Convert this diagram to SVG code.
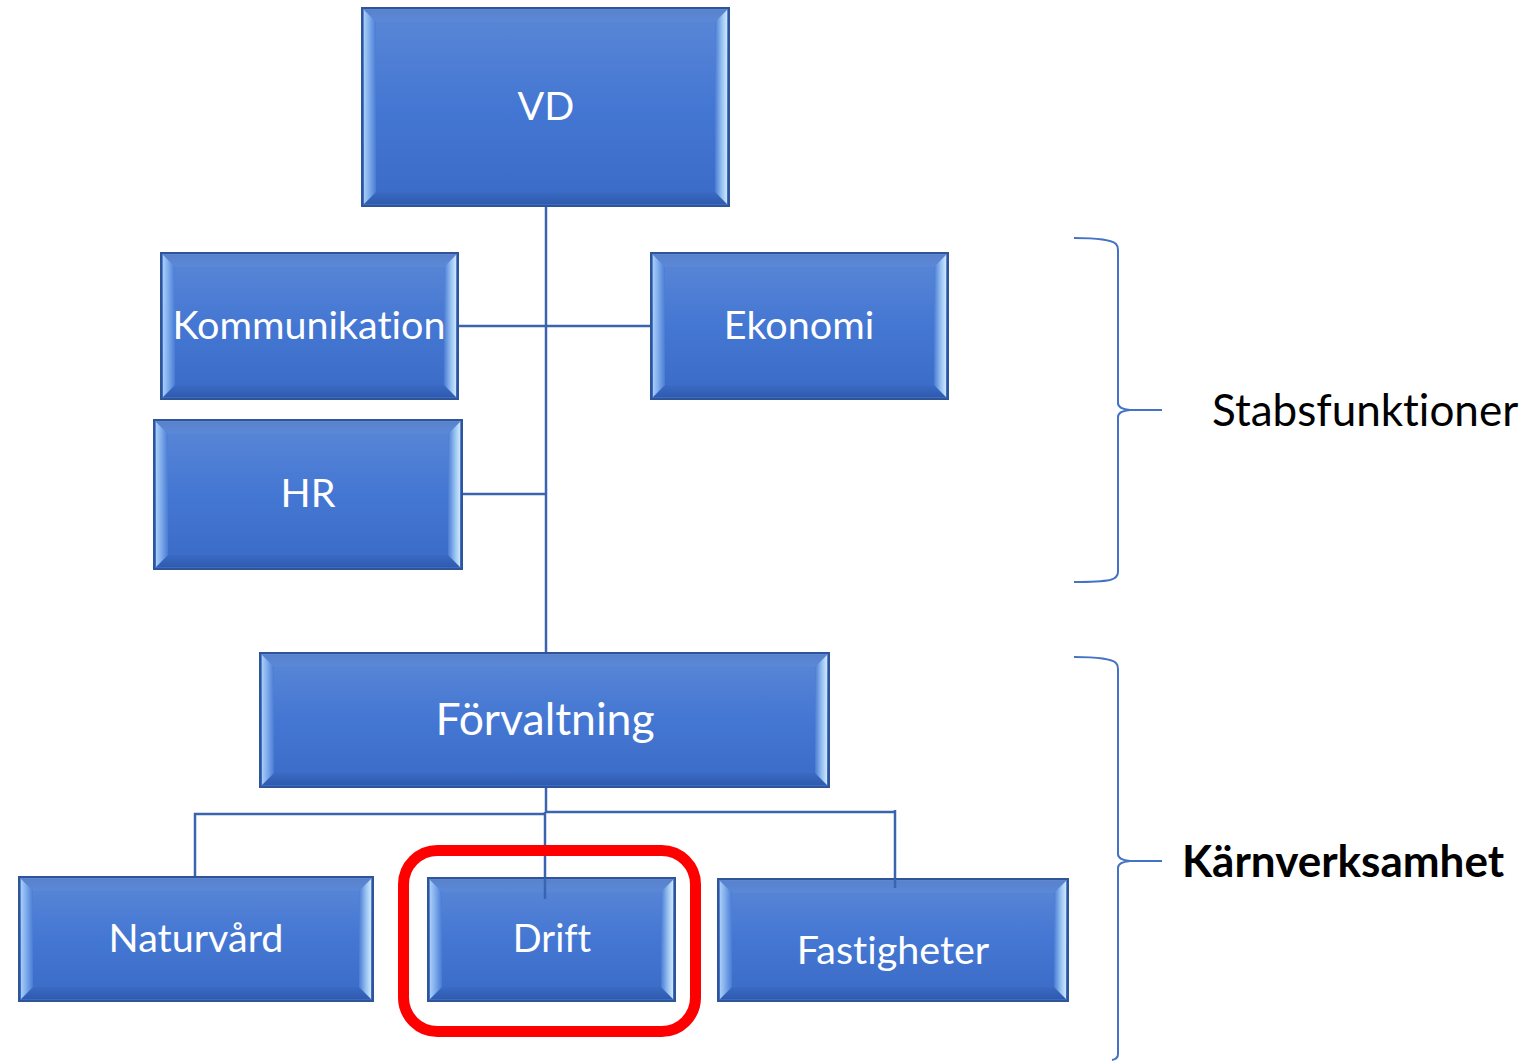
<svg xmlns="http://www.w3.org/2000/svg" width="1537" height="1061" viewBox="0 0 1537 1061">
<defs>
<linearGradient id="gBody" x1="0" y1="0" x2="0" y2="1">
<stop offset="0" stop-color="#5b87d6"/>
<stop offset="0.5" stop-color="#4477d3"/>
<stop offset="1" stop-color="#3a6bc6"/>
</linearGradient>
<linearGradient id="gLeft" x1="0" y1="0" x2="1" y2="0">
<stop offset="0" stop-color="#a8cdf6"/>
<stop offset="0.35" stop-color="#86b3ee"/>
<stop offset="1" stop-color="#4a7bd4"/>
</linearGradient>
<linearGradient id="gRight" x1="0" y1="0" x2="1" y2="0">
<stop offset="0" stop-color="#4a7bd4"/>
<stop offset="0.6" stop-color="#9ac4f2"/>
<stop offset="1" stop-color="#cfe7fc"/>
</linearGradient>
<linearGradient id="gTop" x1="0" y1="0" x2="0" y2="1">
<stop offset="0" stop-color="#5a82cc"/>
<stop offset="1" stop-color="#5a88d8"/>
</linearGradient>
<linearGradient id="gBot" x1="0" y1="0" x2="0" y2="1">
<stop offset="0" stop-color="#3a6ac4"/>
<stop offset="1" stop-color="#2f5bae"/>
</linearGradient>
</defs>
<style>
.body{fill:url(#gBody);stroke:#2f5597;stroke-width:2}
.bl{fill:url(#gLeft)}
.br{fill:url(#gRight)}
.bt{fill:url(#gTop)}
.bb{fill:url(#gBot)}
.lbl{font-family:Lato,"Open Sans","Liberation Sans",sans-serif;fill:#ffffff;text-anchor:middle;font-size:39.5px;font-variant-ligatures:none}
.conn{stroke:#3a64b0;stroke-width:2.5;fill:none}
.brace{stroke:#4472c4;stroke-width:2;fill:none}
.side{font-family:Lato,"Open Sans","Liberation Sans",sans-serif;fill:#000;font-size:44px;font-variant-ligatures:none}
</style>
<rect width="1537" height="1061" fill="#ffffff"/>

<g id="connectors">
<line class="conn" x1="546" y1="206" x2="546" y2="653"/>
<line class="conn" x1="458" y1="326" x2="651" y2="326"/>
<line class="conn" x1="462" y1="494" x2="546" y2="494"/>
<line class="conn" x1="546" y1="787" x2="546" y2="813"/>
<polyline class="conn" points="195,877 195,814 546,814"/>
<line class="conn" x1="546" y1="812" x2="895" y2="812"/>
<line class="conn" x1="545" y1="812" x2="545" y2="899"/>
<line class="conn" x1="895" y1="810" x2="895" y2="888"/>
</g>

<g id="vd">
<rect class="body" x="362" y="8" width="367" height="198"/>
<polygon class="bt" points="364,10 727,10 715,22 376,22"/>
<polygon class="bb" points="364,204 727,204 715,192 376,192"/>
<polygon class="bl" points="364,10 376,22 376,192 364,204"/>
<polygon class="br" points="727,10 715,22 715,192 727,204"/>
<text class="lbl" x="546" y="120">VD</text>
</g>

<g id="kommunikation">
<rect class="body" x="161" y="253" width="297" height="146"/>
<polygon class="bt" points="163,255 456,255 444,267 175,267"/>
<polygon class="bb" points="163,397 456,397 444,385 175,385"/>
<polygon class="bl" points="163,255 175,267 175,385 163,397"/>
<polygon class="br" points="456,255 444,267 444,385 456,397"/>
<text class="lbl" x="309" y="339">Kommunikation</text>
</g>

<g id="ekonomi">
<rect class="body" x="651" y="253" width="297" height="146"/>
<polygon class="bt" points="653,255 946,255 934,267 665,267"/>
<polygon class="bb" points="653,397 946,397 934,385 665,385"/>
<polygon class="bl" points="653,255 665,267 665,385 653,397"/>
<polygon class="br" points="946,255 934,267 934,385 946,397"/>
<text class="lbl" x="799" y="339">Ekonomi</text>
</g>

<g id="hr">
<rect class="body" x="154" y="420" width="308" height="149"/>
<polygon class="bt" points="156,422 460,422 448,434 168,434"/>
<polygon class="bb" points="156,567 460,567 448,555 168,555"/>
<polygon class="bl" points="156,422 168,434 168,555 156,567"/>
<polygon class="br" points="460,422 448,434 448,555 460,567"/>
<text class="lbl" x="308" y="507">HR</text>
</g>

<g id="forvaltning">
<rect class="body" x="260" y="653" width="569" height="134"/>
<polygon class="bt" points="262,655 827,655 815,667 274,667"/>
<polygon class="bb" points="262,785 827,785 815,773 274,773"/>
<polygon class="bl" points="262,655 274,667 274,773 262,785"/>
<polygon class="br" points="827,655 815,667 815,773 827,785"/>
<text class="lbl" x="545" y="735" style="font-size:44.5px">Förvaltning</text>
</g>

<g id="naturvard">
<rect class="body" x="19" y="877" width="354" height="124"/>
<polygon class="bt" points="21,879 371,879 359,891 33,891"/>
<polygon class="bb" points="21,999 371,999 359,987 33,987"/>
<polygon class="bl" points="21,879 33,891 33,987 21,999"/>
<polygon class="br" points="371,879 359,891 359,987 371,999"/>
<text class="lbl" x="196" y="952">Naturvård</text>
</g>

<g id="drift">
<rect class="body" x="428" y="878" width="247" height="123"/>
<polygon class="bt" points="430,880 673,880 661,892 442,892"/>
<polygon class="bb" points="430,999 673,999 661,987 442,987"/>
<polygon class="bl" points="430,880 442,892 442,987 430,999"/>
<polygon class="br" points="673,880 661,892 661,987 673,999"/>
<text class="lbl" x="552" y="952" style="font-size:38px">Drift</text>
<line class="conn" x1="545" y1="878" x2="545" y2="899"/>
</g>

<g id="fastigheter">
<rect class="body" x="718" y="879" width="350" height="122"/>
<polygon class="bt" points="720,881 1066,881 1054,893 732,893"/>
<polygon class="bb" points="720,999 1066,999 1054,987 732,987"/>
<polygon class="bl" points="720,881 732,893 732,987 720,999"/>
<polygon class="br" points="1066,881 1054,893 1054,987 1066,999"/>
<text class="lbl" x="893" y="964">Fastigheter</text>
<line class="conn" x1="895" y1="879" x2="895" y2="888"/>
</g>

<g id="highlight">
<rect x="403.5" y="850.5" width="292" height="181" rx="34" ry="34" fill="none" stroke="#ff0000" stroke-width="11"/>
</g>

<g id="brace-stab">
<path class="brace" d="M1074,238 Q1110,238 1116,244 Q1118,246 1118,250 L1118,403 Q1118,409 1130,410 L1162,410 L1130,410 Q1118,411 1118,417 L1118,572 Q1118,578 1110,580 Q1100,582 1074,582"/>
<text class="side" x="1212" y="426">Stabsfunktioner</text>
</g>

<g id="brace-karn">
<path class="brace" d="M1074,657 Q1110,657 1116,663 Q1118,665 1118,669 L1118,854 Q1118,860 1130,861 L1162,861 L1130,861 Q1118,862 1118,868 L1118,1054 Q1118,1059 1112,1060"/>
<text class="side" x="1182" y="877" style="font-weight:bold">Kärnverksamhet</text>
</g>
</svg>
